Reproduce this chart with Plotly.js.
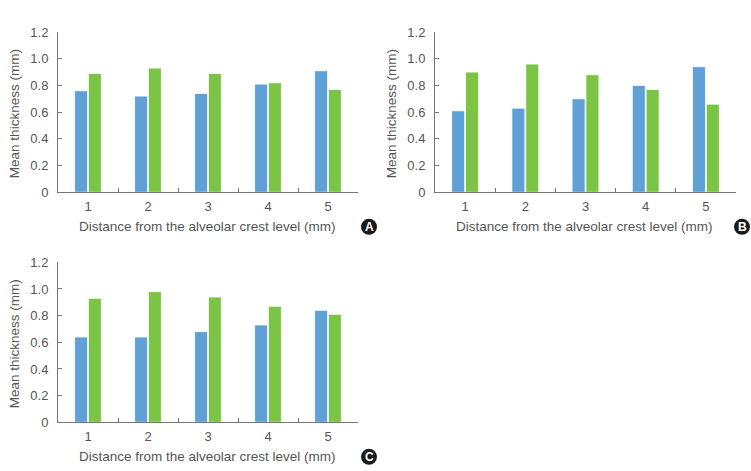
<!DOCTYPE html>
<html>
<head>
<meta charset="utf-8">
<script src="https://cdn.plot.ly/plotly-3.0.1.min.js"></script>
<style>
  html, body { margin: 0; padding: 0; background: #fff; }
  #chart { width: 751px; height: 471px; }
</style>
</head>
<body>
<div id="chart"></div>
<script>
// Distance levels from the alveolar crest (mm)
const levels = ['1', '2', '3', '4', '5'];

// Mean thickness (mm) per panel, two groups each
const panelA_blue  = [0.76, 0.72, 0.74, 0.81, 0.91];
const panelA_green = [0.89, 0.93, 0.89, 0.82, 0.77];
const panelB_blue  = [0.61, 0.63, 0.70, 0.80, 0.94];
const panelB_green = [0.90, 0.96, 0.88, 0.77, 0.66];
const panelC_blue  = [0.64, 0.64, 0.68, 0.73, 0.84];
const panelC_green = [0.93, 0.98, 0.94, 0.87, 0.81];

const yTickVals = [0, 0.2, 0.4, 0.6, 0.8, 1.0, 1.2];
const yTickText = ['0', '0.2', '0.4', '0.6', '0.8', '1.0', '1.2'];
const panelLetters = ['A', 'B', 'C'];

const W = 751, H = 471;
const BLUE = '#5fa0d6', GREEN = '#7cc445';
const TEXT = '#555555', LINE = '#777777';
const FONT = 'Liberation Sans, Arial, sans-serif';

function barTrace(y, color, ax) {
  return {
    type: 'bar', x: levels, y: y,
    xaxis: 'x' + ax, yaxis: 'y' + ax,
    marker: { color: color, line: { color: '#ffffff', width: 0.8 } },
    hoverinfo: 'y', showlegend: false
  };
}

const data = [
  barTrace(panelA_blue, BLUE, ''), barTrace(panelA_green, GREEN, ''),
  barTrace(panelB_blue, BLUE, '2'), barTrace(panelB_green, GREEN, '2'),
  barTrace(panelC_blue, BLUE, '3'), barTrace(panelC_green, GREEN, '3')
];

// pixel helpers for paper coordinates
const px = v => v / W;
const py = v => 1 - v / H;

// panel frames in pixels: [left, right, top, bottom]
const frames = [
  [58, 358, 32, 192.3],
  [435, 736, 32, 192.3],
  [58, 358, 262.3, 422.3]
];

function xAxis(f) {
  return {
    domain: [px(f[0]), px(f[1])],
    type: 'category', range: [-0.5, 4.5],
    showline: true, linecolor: LINE, linewidth: 1,
    ticks: 'inside', tickson: 'boundaries', ticklen: 4, tickcolor: LINE,
    showgrid: false, zeroline: false, fixedrange: true,
    ticklabelstandoff: 2,
    tickfont: { family: FONT, size: 13, color: TEXT }
  };
}
function yAxis(f, anchor) {
  return {
    domain: [py(f[3]), py(f[2])], anchor: anchor,
    range: [0, 1.2], tickvals: yTickVals, ticktext: yTickText,
    showline: true, linecolor: LINE, linewidth: 1,
    ticks: 'inside', ticklen: 4, tickcolor: LINE,
    showgrid: false, zeroline: false, fixedrange: true,
    ticklabelstandoff: 6,
    tickfont: { family: FONT, size: 13, color: TEXT }
  };
}

const layout = {
  width: W, height: H,
  margin: { l: 0, r: 0, t: 0, b: 0 },
  paper_bgcolor: '#ffffff', plot_bgcolor: '#ffffff',
  barmode: 'group', bargap: 0.54, bargroupgap: 0.06,
  font: { family: FONT, color: TEXT },
  xaxis: Object.assign(xAxis(frames[0]), { anchor: 'y' }),
  yaxis: yAxis(frames[0], 'x'),
  xaxis2: Object.assign(xAxis(frames[1]), { anchor: 'y2' }),
  yaxis2: yAxis(frames[1], 'x2'),
  xaxis3: Object.assign(xAxis(frames[2]), { anchor: 'y3' }),
  yaxis3: yAxis(frames[2], 'x3'),
  annotations: [], shapes: []
};

// axis titles and lettered badges for each panel
frames.forEach((f, i) => {
  const cx = (f[0] + f[1]) / 2;
  layout.annotations.push({
    xref: 'paper', yref: 'paper', x: px(cx - 1), y: py(f[3] + 34.5),
    text: 'Distance from the alveolar crest level (mm)', showarrow: false,
    xanchor: 'center', yanchor: 'middle',
    font: { family: FONT, size: 13.5, color: TEXT }
  });
  layout.annotations.push({
    xref: 'paper', yref: 'paper', x: px(f[0] - 44), y: py((f[2] + f[3]) / 2 + 2),
    text: 'Mean thickness (mm)', showarrow: false, textangle: -90,
    xanchor: 'center', yanchor: 'middle',
    font: { family: FONT, size: 13.5, color: TEXT }
  });
  const bx = f[1] + (i === 1 ? 6 : 11), by = f[3] + 34.5;
  layout.shapes.push({
    type: 'circle', xref: 'paper', yref: 'paper',
    x0: px(bx - 8), x1: px(bx + 8), y0: py(by + 8), y1: py(by - 8),
    fillcolor: '#1a1a1a', line: { width: 0 }
  });
  layout.annotations.push({
    xref: 'paper', yref: 'paper', x: px(bx), y: py(by),
    text: '<b>' + panelLetters[i] + '</b>', showarrow: false,
    xanchor: 'center', yanchor: 'middle',
    font: { family: FONT, size: 12, color: '#ffffff' }
  });
});

Plotly.newPlot('chart', data, layout, { displayModeBar: false, staticPlot: true });
</script>
</body>
</html>
